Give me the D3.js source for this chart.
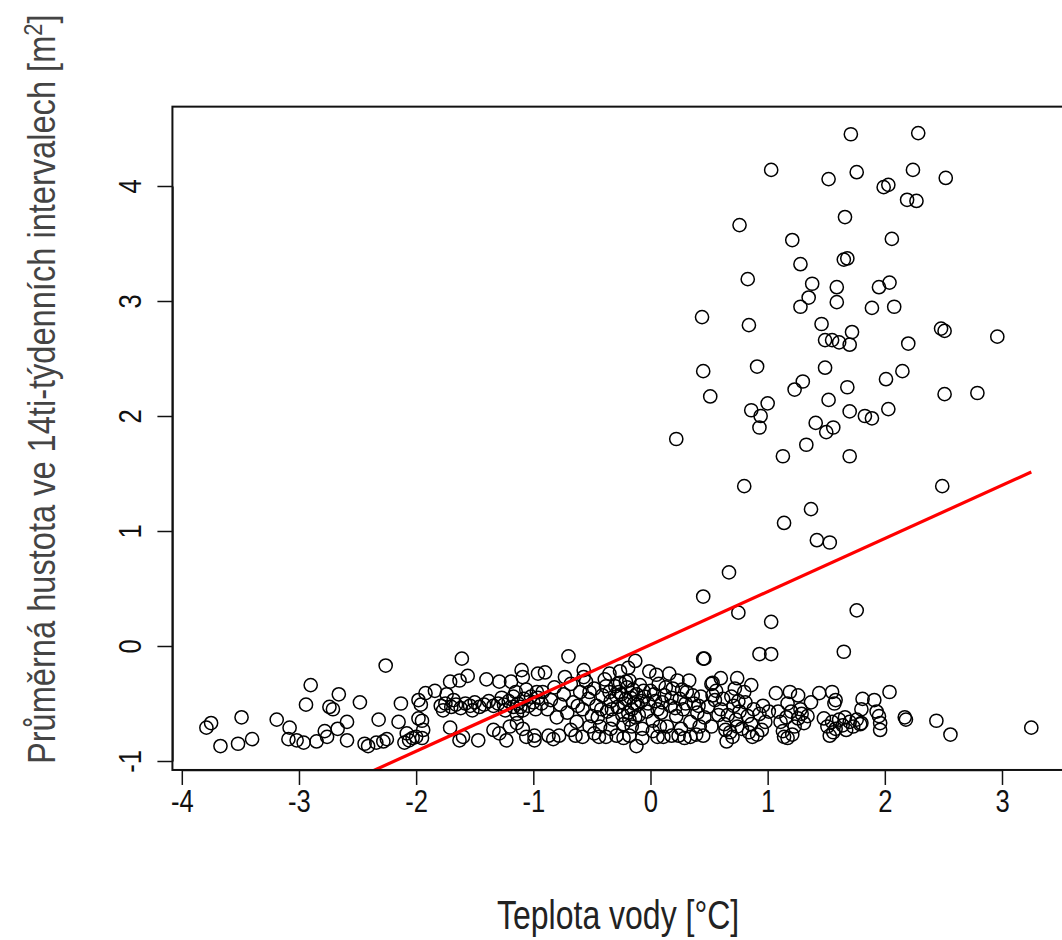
<!DOCTYPE html>
<html><head><meta charset="utf-8">
<script src="https://cdn.jsdelivr.net/npm/d3@7"></script>
<style>body{margin:0;background:#fff}svg{display:block}</style>
</head><body>
<svg id="c" width="1062" height="940"></svg>
<script>
const xTicks = [-4, -3, -2, -1, 0, 1, 2, 3];
const yTicks = [-1, 0, 1, 2, 3, 4];
const xTitle = "Teplota vody [°C]";
const yTitle = "Průměrná hustota ve 14ti-týdenních intervalech [m";
const fitIntercept = 0.01;
const fitSlope = 0.4625;

// low-density cluster (temperature, density)
const pointsLeft = [
[-3.79,-0.71],[-3.75,-0.67],[-3.67,-0.87],[-3.52,-0.85],[-3.49,-0.62],[-3.40,-0.81],[-3.19,-0.64],[-3.08,-0.71],
[-3.09,-0.81],[-3.02,-0.82],[-2.96,-0.84],[-2.85,-0.83],[-2.94,-0.51],[-2.90,-0.34],[-2.78,-0.74],[-2.76,-0.79],
[-2.74,-0.53],[-2.71,-0.55],[-2.66,-0.42],[-2.67,-0.72],[-2.59,-0.66],[-2.59,-0.82],[-2.48,-0.49],
[-2.26,-0.17],[-2.44,-0.85],[-2.41,-0.87],[-2.32,-0.64],[-2.34,-0.84],[-2.25,-0.81],[-2.28,-0.83],[-2.13,-0.50],[-2.15,-0.66],
[-2.10,-0.84],[-2.06,-0.82],[-2.03,-0.80],[-2.00,-0.79],[-1.95,-0.80],[-2.08,-0.76],
[-1.98,-0.47],[-1.96,-0.51],[-1.98,-0.63],[-1.95,-0.65],[-1.94,-0.73],[-1.92,-0.41],[-1.84,-0.39],[-1.74,-0.42],
[-1.71,-0.31],[-1.71,-0.71],[-1.63,-0.30],[-1.56,-0.26],[-1.61,-0.11]
];
const pointsMidLeft = [
[-1.79,-0.52],[-1.75,-0.50],[-1.70,-0.53],[-1.66,-0.51],[-1.62,-0.54],[-1.58,-0.50],[-1.54,-0.52],[-1.50,-0.49],
[-1.46,-0.53],[-1.42,-0.51],[-1.38,-0.48],[-1.34,-0.52],[-1.30,-0.50],[-1.77,-0.56],[-1.68,-0.47],[-1.52,-0.56],
[-1.40,-0.29],[-1.29,-0.31],[-1.19,-0.31],[-1.10,-0.21],[-1.09,-0.27],[-1.63,-0.82],[-1.60,-0.79],[-1.47,-0.82],
[-1.34,-0.73],[-1.23,-0.82],[-1.29,-0.76],[-1.20,-0.70],[-1.14,-0.67],[-1.09,-0.72],[-1.06,-0.79],[-0.99,-0.82],
[-1.09,-0.56],[-1.14,-0.59],[-1.17,-0.44],[-1.06,-0.38],[-0.97,-0.40],[-0.96,-0.24],
[-1.25,-0.51],[-1.21,-0.48],[-1.17,-0.53],[-1.13,-0.50],[-1.08,-0.46],[-1.04,-0.52],[-1.00,-0.49],[-0.96,-0.45],[-0.93,-0.50],
[-1.27,-0.45],[-1.15,-0.40],[-1.02,-0.44],[-0.98,-0.55],[-1.11,-0.53],[-1.24,-0.56]
];
const pointsCenter = [
[-0.90,-0.23],[-0.70,-0.09],[-0.73,-0.27],[-0.57,-0.21],[-0.57,-0.27],[-0.35,-0.24],[-0.26,-0.22],[-0.19,-0.19],
[-0.18,-0.30],[-0.13,-0.13],[-0.01,-0.22],[0.05,-0.25],[0.16,-0.24],[0.23,-0.30],[0.33,-0.30],[0.52,-0.33],[0.56,-0.39],
[-0.99,-0.78],[-0.78,-0.78],[-0.58,-0.79],[-0.38,-0.79],[-0.29,-0.78],[-0.18,-0.78],[0.11,-0.79],[0.24,-0.78],
[0.34,-0.79],[0.45,-0.78],[-0.12,-0.87],[-0.83,-0.81],[-0.48,-0.76],[0.02,-0.74],
[-0.92,-0.40],[-0.88,-0.55],[-0.85,-0.47],[-0.82,-0.36],[-0.80,-0.62],[-0.77,-0.51],[-0.74,-0.42],[-0.71,-0.58],
[-0.68,-0.33],[-0.66,-0.49],[-0.63,-0.66],[-0.60,-0.40],[-0.58,-0.55],[-0.55,-0.31],[-0.53,-0.46],[-0.50,-0.61],
[-0.48,-0.37],[-0.46,-0.52],[-0.43,-0.70],[-0.41,-0.43],[-0.39,-0.29],[-0.37,-0.57],[-0.34,-0.48],[-0.32,-0.64],
[-0.30,-0.35],[-0.28,-0.53],[-0.25,-0.42],[-0.23,-0.68],[-0.21,-0.31],[-0.19,-0.58],[-0.17,-0.45],[-0.15,-0.38],
[-0.13,-0.62],[-0.11,-0.51],[-0.09,-0.34],[-0.07,-0.72],[-0.05,-0.44],[-0.03,-0.57],[0.00,-0.39],[0.02,-0.65],
[0.04,-0.48],[0.07,-0.33],[0.09,-0.58],[0.12,-0.43],[0.14,-0.70],[0.17,-0.52],[0.19,-0.37],[0.22,-0.61],
[0.25,-0.46],[0.28,-0.55],[0.31,-0.40],[0.34,-0.66],[0.37,-0.50],[0.40,-0.58],[0.43,-0.44],[0.46,-0.62],
[0.49,-0.53],[0.52,-0.70],[0.55,-0.47],[0.58,-0.60],
[-0.27,-0.40],[-0.22,-0.50],[-0.16,-0.55],[-0.12,-0.42],[-0.08,-0.48],[-0.24,-0.60],[-0.35,-0.40],[-0.42,-0.55],
[-0.20,-0.36],[-0.10,-0.60],[0.45,-0.11],
[-0.62,-0.52],[-0.52,-0.40],[-0.45,-0.62],[-0.38,-0.35],[-0.33,-0.55],[-0.29,-0.44],[-0.26,-0.32],[-0.21,-0.46],
[-0.18,-0.64],[-0.14,-0.50],[-0.06,-0.39],[-0.02,-0.50],[0.03,-0.42],[0.06,-0.55],[0.10,-0.49],[0.13,-0.36],
[0.18,-0.45],[0.21,-0.54],[0.27,-0.38],[0.30,-0.50],[0.36,-0.43],[0.41,-0.52],[-0.44,-0.79],[-0.23,-0.80],
[-0.07,-0.80],[0.06,-0.79],[0.18,-0.78],[0.29,-0.80],[0.39,-0.77],[-0.64,-0.78],[-0.87,-0.78],[-0.68,-0.73],
[-0.52,-0.70],[-0.34,-0.72],[-0.16,-0.70],[0.08,-0.70],[0.26,-0.72],[0.42,-0.70]
];
const pointsRight = [
[0.60,-0.28],[0.74,-0.28],[0.86,-0.34],[0.72,-0.37],[0.53,-0.32],[0.53,-0.43],[1.07,-0.41],[1.19,-0.40],
[1.26,-0.43],[1.17,-0.50],[1.37,-0.49],[1.44,-0.41],[1.55,-0.40],[1.58,-0.47],[1.57,-0.50],[1.81,-0.46],
[1.91,-0.47],[2.04,-0.40],[1.80,-0.55],[1.93,-0.57],[1.95,-0.61],[1.96,-0.67],[1.96,-0.73],[1.80,-0.67],
[0.65,-0.83],[1.17,-0.80],[1.53,-0.78],
[0.60,-0.55],[0.63,-0.68],[0.66,-0.60],[0.68,-0.75],[0.71,-0.52],[0.73,-0.64],[0.76,-0.57],[0.78,-0.72],
[0.81,-0.49],[0.83,-0.61],[0.86,-0.68],[0.88,-0.55],[0.91,-0.77],[0.93,-0.59],[0.96,-0.52],[0.98,-0.66],
[1.01,-0.57],[0.70,-0.79],[0.87,-0.79],[0.95,-0.73],
[0.62,-0.46],[0.69,-0.44],[0.75,-0.48],[0.80,-0.40],[0.64,-0.73],[0.74,-0.70],[0.84,-0.75],
[1.09,-0.57],[1.11,-0.66],[1.13,-0.74],[1.16,-0.62],[1.20,-0.57],[1.23,-0.70],[1.26,-0.63],[1.29,-0.59],
[1.31,-0.67],[1.34,-0.61],[1.14,-0.79],[1.21,-0.77],[1.28,-0.55],
[1.48,-0.63],[1.51,-0.70],[1.55,-0.66],[1.58,-0.72],[1.61,-0.64],[1.64,-0.69],[1.67,-0.73],[1.70,-0.66],
[1.73,-0.70],[1.76,-0.64],[1.79,-0.68],[1.56,-0.75],[1.66,-0.62],
[2.17,-0.62],[2.18,-0.64],[2.44,-0.65],[2.56,-0.77],[3.25,-0.71],
[0.46,-0.11],[0.93,-0.07],[1.03,-0.07],[1.65,-0.05]
];
// high-density points
const pointsHigh = [
[2.285,4.46],[1.71,4.45],[1.03,4.14],[1.52,4.06],[1.76,4.12],[2.24,4.14],[1.99,3.99],[2.03,4.01],
[2.19,3.88],[2.27,3.87],[2.52,4.07],[1.66,3.73],[0.76,3.66],[1.21,3.53],[2.06,3.54],[1.68,3.37],
[1.65,3.36],[1.28,3.32],[0.83,3.19],[1.38,3.15],[1.59,3.12],[2.04,3.16],[1.95,3.12],[1.35,3.03],
[1.28,2.95],[1.59,2.99],[2.08,2.95],[1.89,2.94],[0.44,2.86],[0.84,2.79],[1.46,2.80],[2.48,2.76],
[2.51,2.74],[2.96,2.69],[1.72,2.73],[1.49,2.66],[1.55,2.66],[1.61,2.64],[1.70,2.62],[2.20,2.63],
[0.45,2.39],[0.91,2.43],[2.15,2.39],[1.30,2.30],[1.49,2.42],[1.68,2.25],[2.01,2.32],[1.23,2.23],
[0.51,2.17],[2.51,2.19],[2.79,2.20],[1.52,2.14],[1.00,2.11],[0.86,2.05],[0.94,2.00],[2.03,2.06],
[1.70,2.04],[1.83,2.00],[1.41,1.94],[0.93,1.90],[1.89,1.98],[1.50,1.86],[1.56,1.90],[1.33,1.75],
[0.22,1.80],[1.13,1.65],[1.70,1.65],[0.80,1.39],[2.49,1.39],[1.37,1.19],[1.14,1.07],[1.42,0.92],
[1.53,0.90],[0.45,0.43],[0.67,0.64],[0.75,0.29],[1.03,0.21],[1.76,0.31]
];

const points = [].concat(pointsLeft, pointsMidLeft, pointsCenter, pointsRight, pointsHigh);

const svg = d3.select("#c");
const x = d3.scaleLinear().domain([-4, 3]).range([181.8, 1002]);
const y = d3.scaleLinear().domain([-1, 4]).range([761, 186]);
const xLim = [-4.08, 3.55], yLim = [-1.078, 4.69];
const boxL = x(xLim[0]), boxR = x(xLim[1]), boxT = y(yLim[1]), boxB = y(yLim[0]);
const fmt = d => String(d);  // ASCII hyphen-minus as in R
const FONT = "'Liberation Sans', Arial, sans-serif";

svg.append("clipPath").attr("id","clip").append("rect")
  .attr("x", boxL).attr("y", boxT).attr("width", boxR-boxL).attr("height", boxB-boxT);

// points
svg.append("g").attr("clip-path","url(#clip)")
  .selectAll("circle").data(points).join("circle")
  .attr("cx", d => x(d[0])).attr("cy", d => y(d[1])).attr("r", 6.6)
  .attr("fill","none").attr("stroke","#000").attr("stroke-width",1.5);

// regression line
const ext = d3.extent(points, d => d[0]);
svg.append("g").attr("clip-path","url(#clip)").append("line")
  .attr("x1", x(ext[0])).attr("y1", y(fitIntercept + fitSlope*ext[0]))
  .attr("x2", x(ext[1])).attr("y2", y(fitIntercept + fitSlope*ext[1]))
  .attr("stroke","#ff0000").attr("stroke-width",3.2);

// box
svg.append("rect").attr("x", boxL).attr("y", boxT).attr("width", boxR-boxL).attr("height", boxB-boxT)
  .attr("fill","none").attr("stroke","#111").attr("stroke-width",2);

// x axis
const gx = svg.append("g").attr("transform",`translate(0,${boxB})`)
  .call(d3.axisBottom(x).tickValues(xTicks).tickSize(15).tickSizeOuter(0).tickPadding(4).tickFormat(fmt));
gx.select(".domain").attr("stroke","#111").attr("stroke-width",1.5);
gx.selectAll(".tick line").attr("stroke","#111").attr("stroke-width",1.5);
gx.selectAll(".tick text").attr("font-family",FONT)
  .attr("font-size",32).attr("fill","#111").attr("transform","scale(0.8,1)");

// y axis
const gy = svg.append("g").attr("transform",`translate(${boxL},0)`)
  .call(d3.axisLeft(y).tickValues(yTicks).tickSize(15).tickSizeOuter(0).tickFormat(fmt));
gy.select(".domain").attr("stroke","#111").attr("stroke-width",1.5);
gy.selectAll(".tick line").attr("stroke","#111").attr("stroke-width",1.5);
gy.selectAll(".tick text").attr("x",null).attr("dy",null).attr("y",0)
  .attr("text-anchor","middle")
  .attr("font-family",FONT)
  .attr("font-size",32).attr("fill","#111")
  .attr("transform","translate(-31,0) rotate(-90) scale(0.8,1)");

// titles
svg.append("g").attr("transform","translate(497,929) scale(1,1.25)")
  .append("text").attr("x",0).attr("y",0)
  .attr("font-family",FONT).attr("font-size",32).attr("fill","#222").text(xTitle);

const yt = svg.append("g").attr("transform","translate(55,764) rotate(-90) scale(1,1.2)")
  .append("text").attr("x",0).attr("y",0)
  .attr("font-family",FONT).attr("font-size",32.6).attr("fill","#444");
yt.append("tspan").text(yTitle);
yt.append("tspan").attr("dy",-11).attr("font-size",22).text("2");
yt.append("tspan").attr("dy",11).text("]");
</script>
</body></html>
